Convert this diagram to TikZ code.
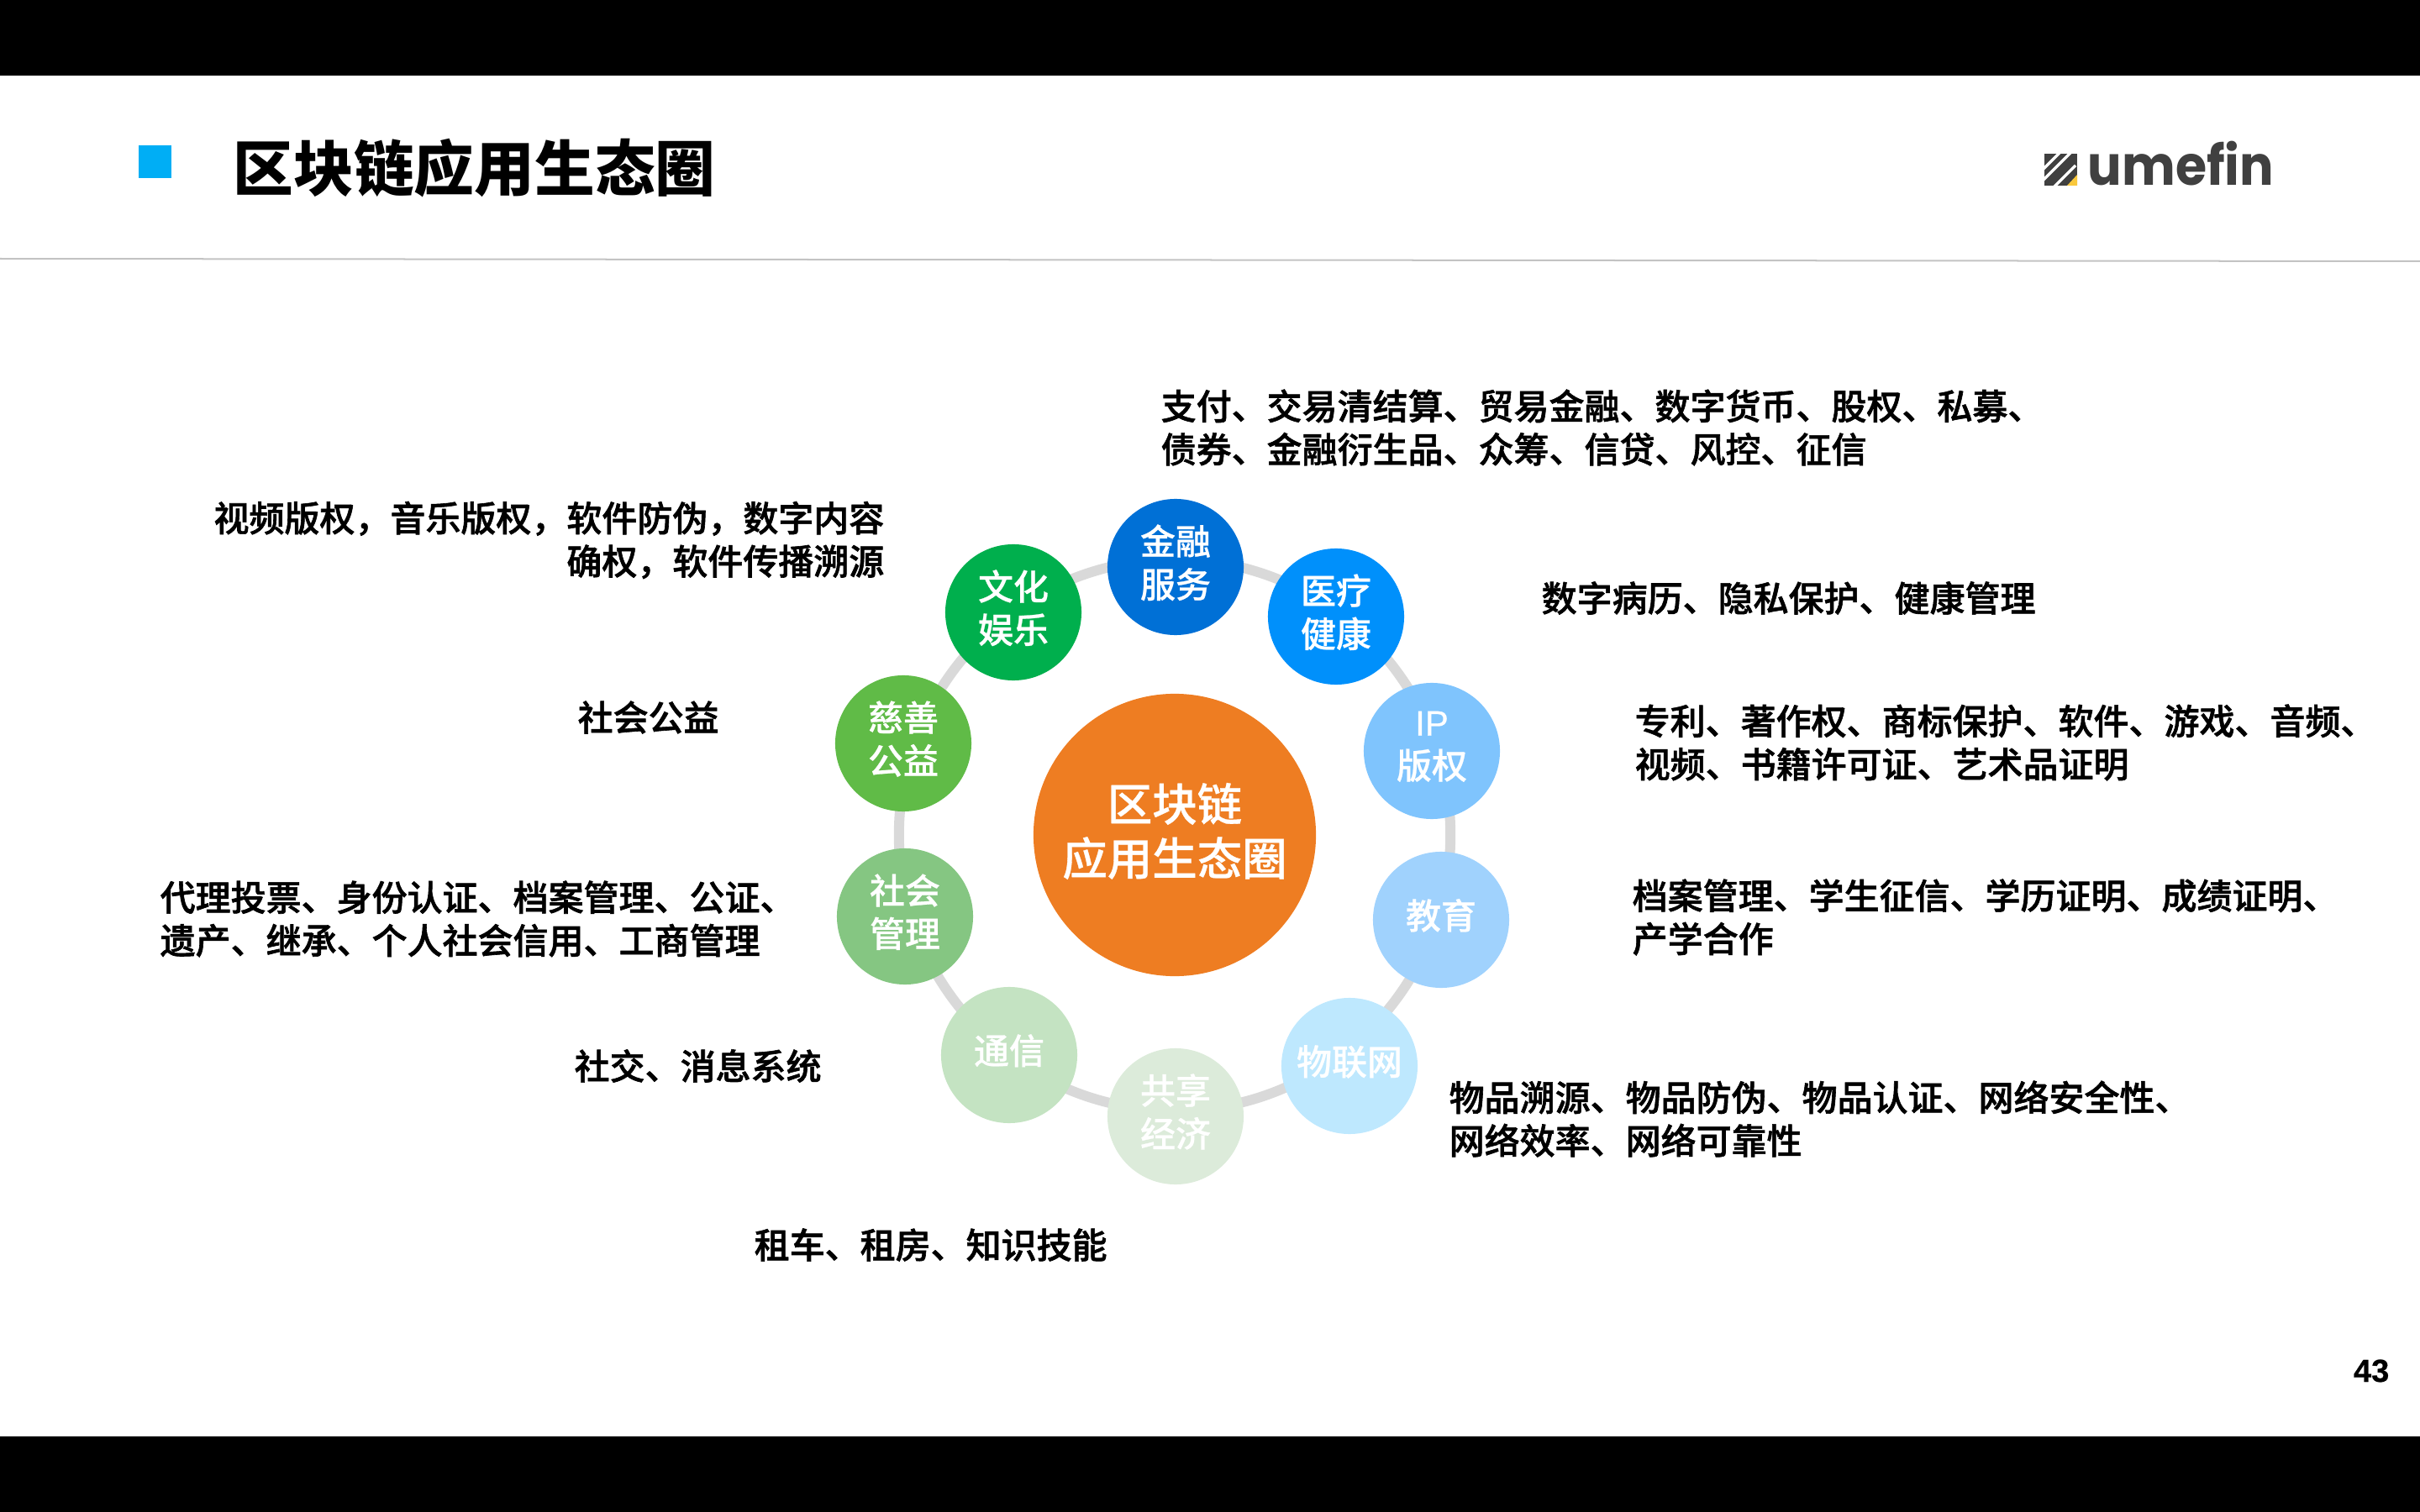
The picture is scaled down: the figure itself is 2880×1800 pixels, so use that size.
\documentclass[tikz,border=0pt]{standalone}
\usepackage{fontspec}
\setmainfont{Noto Sans CJK SC}
\newfontfamily\medfont[FakeBold=0.6]{Noto Sans CJK SC Medium}
\newfontfamily\listfont[FakeBold=1.4]{Noto Sans CJK SC Medium}
\newfontfamily\arialfont[FakeBold=0.6]{Liberation Sans}
\newfontfamily\logofont[FakeStretch=0.92]{Poppins}
\usepackage{tikz}
\usetikzlibrary{positioning}
\definecolor{jinrong}{HTML}{0070D6}
\definecolor{yiliao}{HTML}{0090FB}
\definecolor{banquan}{HTML}{7FC4FD}
\definecolor{jiaoyu}{HTML}{A0D2FD}
\definecolor{wulian}{HTML}{BEE8FE}
\definecolor{gongxiang}{HTML}{DCEBDA}
\definecolor{tongxin}{HTML}{C4E3C2}
\definecolor{shehui}{HTML}{85C682}
\definecolor{cishan}{HTML}{60BB47}
\definecolor{wenhua}{HTML}{00AF4D}
\definecolor{hubcolor}{HTML}{EE7D22}
\definecolor{titleblue}{HTML}{00AEF5}
\definecolor{ringgray}{HTML}{D9D9D9}
\definecolor{logogray}{HTML}{404040}
\definecolor{logoyellow}{HTML}{F9C83C}

\begin{document}
\begin{tikzpicture}[
    x=0.01cm, y=-0.01cm,
    bubble/.style={circle, fill=#1, inner sep=0pt, minimum size=1.62cm, text=white, align=center,
                   text depth=4pt, font=\fontsize{11.94}{14.6}\selectfont\medfont},
    usecase/.style={inner sep=0pt, text=black, font=\fontsize{11.94}{14.6}\selectfont\listfont}
]
    \useasboundingbox (0,0) rectangle (2880,1800);

    % Slide frame
    \fill[black] (0,0) rectangle (2880,90);
    \fill[black] (0,1710) rectangle (2880,1800);
    \fill[titleblue] (165,173) rectangle (204,212);
    \node[anchor=west, inner sep=0pt, font=\fontsize{20.4}{24}\selectfont\bfseries] (title) at (277,200) {区块链应用生态圈};
    \coordinate (ruleL) at (0,308);
    \coordinate (ruleR) at (2880,311);
    \draw[color=ringgray!90!black, line width=0.02cm] (ruleL) -- (ruleR);
    \node[anchor=base east, inner sep=0pt, font=\fontsize{10.8}{13}\selectfont\arialfont\bfseries] (pageno) at (2844,1645) {43};

    % Logo
    \begin{scope}
        \clip (2433,183) rectangle (2472,221);
        \fill[logogray] (2433,183) rectangle (2472,221);
        \foreach \d in {0,13,34} {
            \draw[white, line width=0.033cm] (2431,202+\d) -- (2470,163+\d);
        }
        \fill[logoyellow] (2460,221) -- (2472,221) -- (2472,208) -- cycle;
    \end{scope}
    \node[anchor=base west, inner sep=0pt, text=logogray, font=\fontsize{18.6}{24}\selectfont\logofont\bfseries] (logo) at (2484,221) {umefin};

    % Centre and ring
    \node[circle, fill=hubcolor, inner sep=0pt, minimum size=3.36cm, text=white, align=center,
          text depth=4pt, font=\fontsize{15.2}{18.4}\selectfont\medfont] (hub) at (1398,994) {区块链\\应用生态圈};
    \node[circle, draw=ringgray, line width=0.12cm, minimum size=6.56cm] (ring) at (hub) {};

    % Outer circles
    \node[bubble=jinrong] (fin) at (1399,675) {金融\\服务};
    \node[bubble=yiliao] (med) at (1590,734) {医疗\\健康};
    \node[bubble=banquan] (ipr) at (1704,894) {{\arialfont IP}\\版权};
    \node[bubble=jiaoyu] (edu) at (1715,1095) {教育};
    \node[bubble=wulian] (iot) at (1606,1269) {物联网};
    \node[bubble=gongxiang] (share) at (1399,1329) {共享\\经济};
    \node[bubble=tongxin] (comm) at (1201,1256) {通信};
    \node[bubble=shehui] (soc) at (1077,1091) {社会\\管理};
    \node[bubble=cishan] (char) at (1075,885) {慈善\\公益};
    \node[bubble=wenhua] (cult) at (1206,729) {文化\\娱乐};

    % Application lists
    \node[usecase, anchor=west, align=left] (finText) at (1381,509) {支付、交易清结算、贸易金融、数字货币、股权、私募、\\债券、金融衍生品、众筹、信贷、风控、征信};
    \node[usecase, anchor=west] (medText) at (1834,712) {数字病历、隐私保护、健康管理};
    \node[usecase, anchor=west, align=left] (iprText) at (1945,884) {专利、著作权、商标保护、软件、游戏、音频、\\视频、书籍许可证、艺术品证明};
    \node[usecase, anchor=west, align=left] (eduText) at (1942,1092) {档案管理、学生征信、学历证明、成绩证明、\\产学合作};
    \node[usecase, anchor=west, align=left] (iotText) at (1724,1332) {物品溯源、物品防伪、物品认证、网络安全性、\\网络效率、网络可靠性};
    \node[usecase, anchor=west] (shareText) at (897,1482) {租车、租房、知识技能};
    \node[usecase, anchor=west] (commText) at (683,1269) {社交、消息系统};
    \node[usecase, anchor=west, align=left] (socText) at (190,1094) {代理投票、身份认证、档案管理、公证、\\遗产、继承、个人社会信用、工商管理};
    \node[usecase, anchor=west] (charText) at (687,854) {社会公益};
    \node[usecase, anchor=east, align=right] (cultText) at (1053,643) {视频版权，音乐版权，软件防伪，数字内容\\确权，软件传播溯源};
\end{tikzpicture}
\end{document}
